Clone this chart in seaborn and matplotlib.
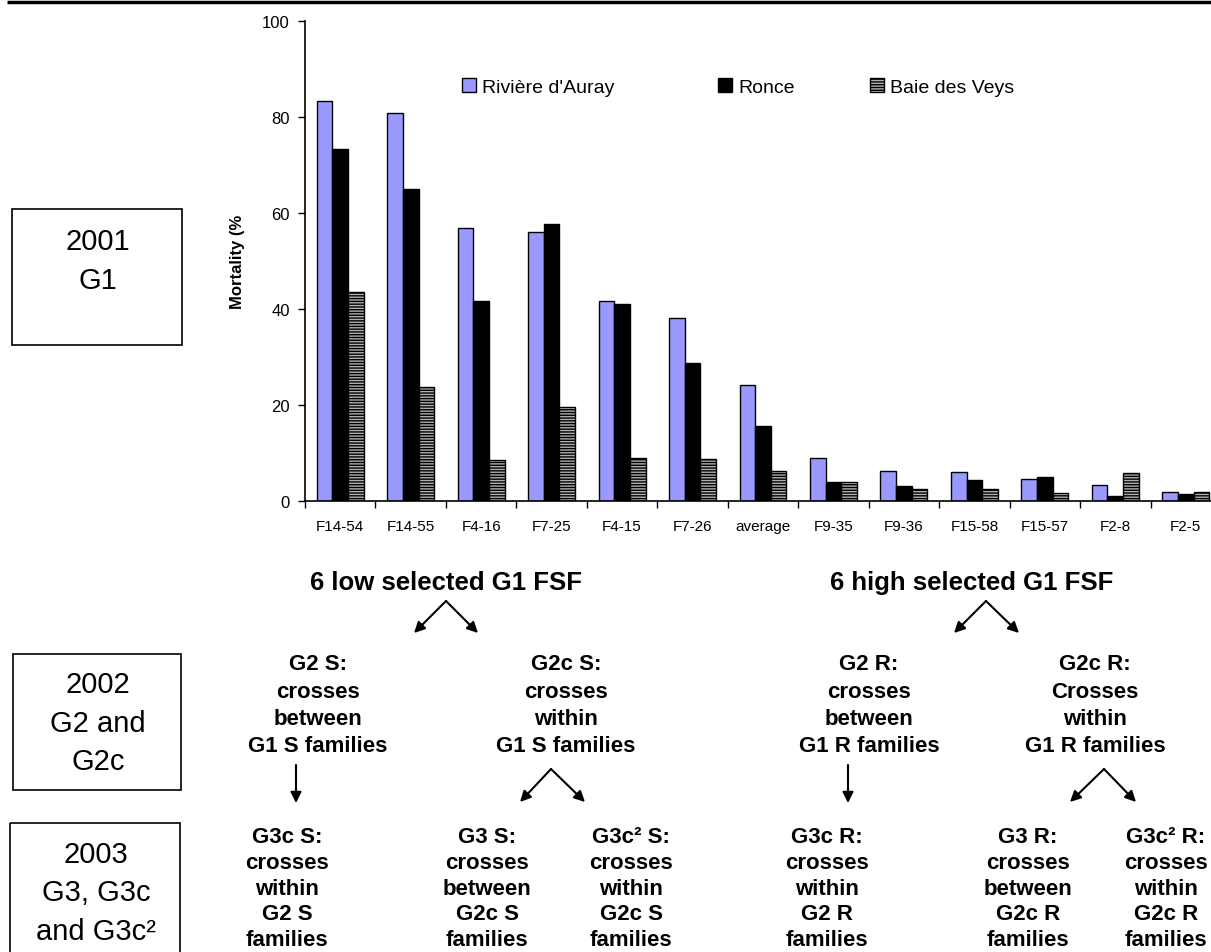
import numpy as np
import pandas as pd
import matplotlib
matplotlib.use("Agg")
import matplotlib.pyplot as plt
from matplotlib.patches import Patch, Rectangle
from matplotlib.legend import Legend
import seaborn as sns

families = ["F14-54", "F14-55", "F4-16", "F7-25", "F4-15", "F7-26", "average",
            "F9-35", "F9-36", "F15-58", "F15-57", "F2-8", "F2-5"]
sites = ["Rivière d'Auray", "Ronce", "Baie des Veys"]
auray = [83.2, 80.7, 56.9, 56.0, 41.6, 38.0, 24.1, 8.9, 6.3, 6.1, 4.6, 3.3, 1.9]
ronce = [73.2, 64.9, 41.6, 57.6, 40.9, 28.7, 15.6, 4.0, 3.2, 4.4, 5.0, 1.0, 1.5]
veys = [43.6, 23.8, 8.5, 19.6, 9.0, 8.8, 6.3, 4.0, 2.6, 2.6, 1.7, 5.9, 1.9]
colors = ["#9999ff", "#000000", "#b0b0b0"]

df = pd.DataFrame({
    "family": families * 3,
    "site": [sites[0]] * 13 + [sites[1]] * 13 + [sites[2]] * 13,
    "mortality": auray + ronce + veys,
})

sns.set_style("ticks")
plt.rcParams["font.family"] = ["Liberation Sans", "DejaVu Sans"]
plt.rcParams["hatch.linewidth"] = 1.0
for k in ["text.color", "axes.labelcolor", "xtick.color", "ytick.color", "axes.edgecolor"]:
    plt.rcParams[k] = "black"

W, H = 1211, 953
fig = plt.figure(figsize=(W / 100, H / 100), dpi=100)
ax = fig.add_axes([305 / W, 1 - 502 / H, 916 / W, 480.5 / H])

sns.barplot(data=df, x="family", y="mortality", hue="site", hue_order=sites,
            order=families, palette=colors, saturation=1, width=0.667,
            edgecolor="black", linewidth=1, legend=False, ax=ax)
for bar in ax.containers[2]:
    bar.set_hatch("------")

ax.set_ylim(0, 100)
ax.set_xlim(-0.5, 12.5)
ax.set_yticks(np.arange(0, 101, 20))
ax.tick_params(axis="y", direction="out", length=5, width=1, labelsize=12, pad=6)
ax.set_xticks(np.arange(13))
ax.set_xticklabels(families)
ax.tick_params(axis="x", which="major", length=0, labelsize=11, pad=13)
ax.set_xticks(np.arange(-0.5, 13, 1), minor=True)
ax.tick_params(axis="x", which="minor", direction="out", length=5, width=1)
for s in ["top", "right"]:
    ax.spines[s].set_visible(False)
ax.spines["left"].set_linewidth(1.2)
ax.spines["bottom"].set_linewidth(1.2)
ax.set_xlabel("")
ax.set_ylabel("Mortality (%", fontsize=12, fontweight="bold")
ax.yaxis.set_label_coords(-0.074, 0.5)
ax.yaxis.label.set_verticalalignment("center")

# one legend entry per site, placed like the original
handles = [Patch(facecolor=colors[0], edgecolor="black"),
           Patch(facecolor=colors[1], edgecolor="black"),
           Patch(facecolor=colors[2], edgecolor="black", hatch="------")]
leg_x = [462, 718, 870]
for h, lab, lx in zip(handles, sites, leg_x):
    leg = Legend(ax, [h], [lab], frameon=False, fontsize=14, loc="center left",
                 bbox_to_anchor=((lx - 305) / 916, 1 - (88 - 21.5) / 480.5),
                 handlelength=0.7, handleheight=0.7, handletextpad=0.35,
                 borderaxespad=0, borderpad=0)
    ax.add_artist(leg)

# diagram overlay in pixel coordinates
ov = fig.add_axes([0, 0, 1, 1])
ov.set_xlim(0, W)
ov.set_ylim(H, 0)
ov.axis("off")
ov.patch.set_alpha(0)

ov.plot([7, W], [3, 3], color="black", lw=2.5, solid_capstyle="butt")

boxes = [(12, 210, 170, 136, ["2001", "G1"], [242, 281]),
         (13, 655, 168, 136, ["2002", "G2 and", "G2c"], [685, 724, 762]),
         (10, 824, 170, 140, ["2003", "G3, G3c", "and G3c²"], [855, 893, 932])]
for x0, y0, bw, bh, lines, ys in boxes:
    ov.add_patch(Rectangle((x0, y0), bw, bh, fill=False, edgecolor="black", lw=1.2))
    for t, y in zip(lines, ys):
        ov.text(x0 + bw / 2 + 1, y, t, ha="center", va="center", fontsize=21)

ov.text(446, 583, "6 low selected G1 FSF", ha="center", va="center",
        fontsize=18.5, fontweight="bold")
ov.text(972, 583, "6 high selected G1 FSF", ha="center", va="center",
        fontsize=18.5, fontweight="bold")

row2 = [(318, ["G2 S:", "crosses", "between", "G1 S families"]),
        (566, ["G2c S:", "crosses", "within", "G1 S families"]),
        (869, ["G2 R:", "crosses", "between", "G1 R families"]),
        (1095, ["G2c R:", "Crosses", "within", "G1 R families"])]
for x, lines in row2:
    for i, t in enumerate(lines):
        ov.text(x, 665 + 27.2 * i, t, ha="center", va="center",
                fontsize=16, fontweight="bold")

row3 = [(287, ["G3c S:", "crosses", "within", "G2 S", "families"]),
        (487, ["G3 S:", "crosses", "between", "G2c S", "families"]),
        (631, ["G3c² S:", "crosses", "within", "G2c S", "families"]),
        (827, ["G3c R:", "crosses", "within", "G2 R", "families"]),
        (1028, ["G3 R:", "crosses", "between", "G2c R", "families"]),
        (1166, ["G3c² R:", "crosses", "within", "G2c R", "families"])]
for x, lines in row3:
    for i, t in enumerate(lines):
        ov.text(x, 837.5 + 25.8 * i, t, ha="center", va="center",
                fontsize=16, fontweight="bold")

arrow = dict(arrowstyle="-|>", color="black", lw=1.5, mutation_scale=16,
             shrinkA=0, shrinkB=0)
for apex, ends in [((446, 602), [(414, 634), (478, 634)]),
                   ((986, 602), [(954, 634), (1019, 634)]),
                   ((551, 770), [(520, 803), (585, 803)]),
                   ((1104, 770), [(1070, 803), (1136, 803)])]:
    for e in ends:
        ov.annotate("", xy=e, xytext=apex, arrowprops=arrow)
for x in [296, 848]:
    ov.annotate("", xy=(x, 804), xytext=(x, 766), arrowprops=arrow)

fig.savefig("out.png", dpi=100)
